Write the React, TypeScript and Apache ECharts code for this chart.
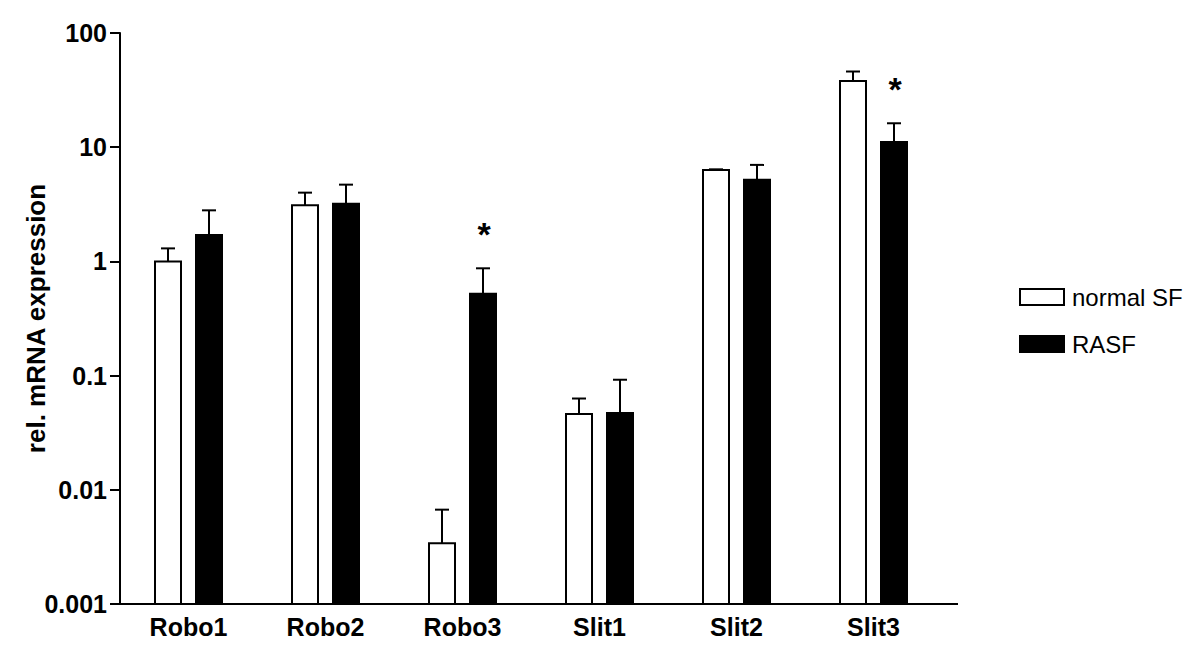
import React, { useEffect, useRef } from "react";
import * as echarts from "echarts";

const categories = ["Robo1", "Robo2", "Robo3", "Slit1", "Slit2", "Slit3"];
const normalMean = [1.0, 3.1, 0.0034, 0.046, 6.3, 38];
const normalUpper = [1.3, 4.0, 0.0067, 0.063, 6.4, 46];
const rasfMean = [1.7, 3.2, 0.52, 0.047, 5.2, 11.1];
const rasfUpper = [2.8, 4.7, 0.87, 0.092, 7.0, 16.2];
const significant = [2, 5];
const yTicks = [0.001, 0.01, 0.1, 1, 10, 100];
const yTickLabels = ["0.001", "0.01", "0.1", "1", "10", "100"];
const seriesNames = ["normal SF", "RASF"];

const Y_MIN = 0.001;
const Y_MAX = 100;
const BAR_W = 26;
const OFFSET = 20.5;
const CAP = 14;
const FONT = "'Liberation Sans', Arial, Helvetica, sans-serif";

function makeRender(side: number, fill: string) {
  return (params: any, api: any) => {
    const i = api.value(0);
    const top = api.coord([i, api.value(1)]);
    const bottom = api.coord([i, Y_MIN]);
    const err = api.coord([i, api.value(2)]);
    const cx = top[0] + side * OFFSET;
    return {
      type: "group",
      children: [
        {
          type: "line",
          shape: { x1: cx, y1: top[1], x2: cx, y2: err[1] },
          style: { stroke: "#000", lineWidth: 2 },
        },
        {
          type: "line",
          shape: { x1: cx - CAP / 2, y1: err[1], x2: cx + CAP / 2, y2: err[1] },
          style: { stroke: "#000", lineWidth: 2 },
        },
        {
          type: "rect",
          shape: { x: cx - BAR_W / 2, y: top[1], width: BAR_W, height: bottom[1] - top[1] },
          style: { fill, stroke: "#000", lineWidth: 2 },
        },
      ],
    };
  };
}

export default function App() {
  const ref = useRef<HTMLDivElement>(null);
  useEffect(() => {
    if (!ref.current) return;
    const chart = echarts.init(ref.current, null, { renderer: "svg" });
    const option: any = {
      animation: false,
      backgroundColor: "#fff",
      grid: { left: 120, top: 33, width: 822, height: 571, containLabel: false, outerBoundsMode: "none" },
      legend: {
        orient: "vertical",
        left: 1014,
        top: 278,
        itemWidth: 44,
        itemHeight: 16,
        itemGap: 19,
        selectedMode: false,
        textStyle: { fontSize: 24, fontFamily: FONT, color: "#000", lineHeight: 28, padding: [0, 0, 0, 3] },
        data: [
          { name: seriesNames[0], icon: "rect", itemStyle: { color: "#fff", borderColor: "#000", borderWidth: 2 } },
          { name: seriesNames[1], icon: "rect", itemStyle: { color: "#000", borderColor: "#000", borderWidth: 2 } },
        ],
      },
      xAxis: {
        type: "category",
        data: categories,
        axisTick: { show: false },
        axisLine: { lineStyle: { color: "#000", width: 2 } },
        axisLabel: { fontSize: 25, fontWeight: "bold", fontFamily: FONT, color: "#000", margin: 10 },
      },
      yAxis: {
        type: "log",
        logBase: 10,
        min: Y_MIN,
        max: Y_MAX,
        name: "rel. mRNA expression",
        nameLocation: "middle",
        nameGap: 71,
        nameMoveOverlap: false,
        nameTextStyle: { fontSize: 26, fontWeight: "bold", fontFamily: FONT, color: "#000" },
        splitLine: { show: false },
        axisLine: { show: true, lineStyle: { color: "#000", width: 2 } },
        axisTick: { show: true, length: 10, lineStyle: { color: "#000", width: 2 } },
        axisLabel: {
          fontSize: 25,
          fontWeight: "bold",
          fontFamily: FONT,
          color: "#000",
          margin: 13,
          formatter: (v: number) => {
            let best = 0;
            for (let k = 0; k < yTicks.length; k++) {
              if (Math.abs(Math.log10(yTicks[k]) - Math.log10(v)) < Math.abs(Math.log10(yTicks[best]) - Math.log10(v))) best = k;
            }
            return yTickLabels[best];
          },
        },
      },
      graphic: [
        {
          type: "line",
          shape: { x1: 940, y1: 604, x2: 958, y2: 604 },
          style: { stroke: "#000", lineWidth: 2 },
        },
      ],
      series: [
        {
          name: seriesNames[0],
          type: "custom",
          itemStyle: { color: "#fff", borderColor: "#000", borderWidth: 2 },
          encode: { x: 0, y: 1 },
          data: categories.map((c, i) => [i, normalMean[i], normalUpper[i]]),
          renderItem: makeRender(-1, "#fff"),
          z: 3,
        },
        {
          name: seriesNames[1],
          type: "custom",
          itemStyle: { color: "#000", borderColor: "#000", borderWidth: 2 },
          encode: { x: 0, y: 1 },
          data: categories.map((c, i) => [i, rasfMean[i], rasfUpper[i]]),
          renderItem: makeRender(1, "#000"),
          z: 3,
        },
        {
          name: "sig",
          type: "custom",
          encode: { x: 0, y: 1 },
          data: significant.map((i) => [i, rasfUpper[i]]),
          renderItem: (params: any, api: any) => {
            const p = api.coord([api.value(0), api.value(1)]);
            return {
              type: "text",
              style: {
                x: p[0] + OFFSET + 1,
                y: p[1] - 34,
                text: "*",
                fill: "#000",
                font: `bold 34px ${FONT}`,
                textAlign: "center",
                textVerticalAlign: "middle",
              },
            };
          },
          z: 4,
        },
      ],
    };
    chart.setOption(option);
    return () => chart.dispose();
  }, []);
  return <div ref={ref} style={{ position: "fixed", left: 0, top: 0, width: 1200, height: 664 }} />;
}
